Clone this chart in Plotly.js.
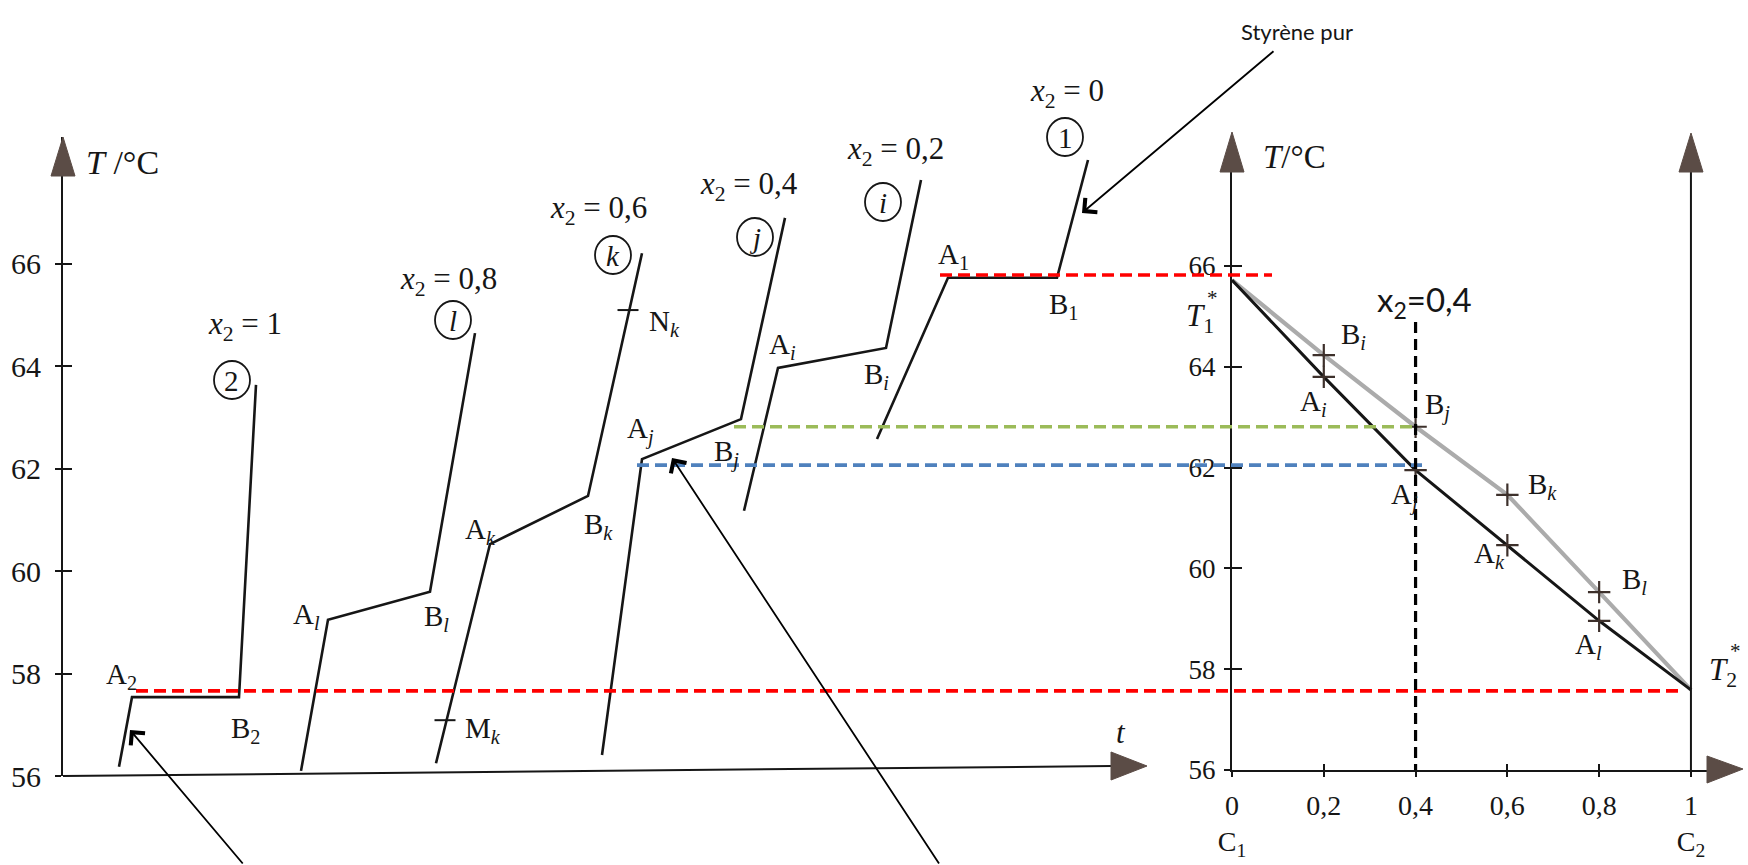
<!DOCTYPE html>
<html>
<head>
<meta charset="utf-8">
<script src="https://cdn.plot.ly/plotly-3.0.1.min.js"></script>
<style>
  html, body { margin: 0; padding: 0; background: #ffffff; }
  #fig { width: 1748px; height: 865px; }
</style>
</head>
<body>
<div id="fig"></div>
<script>
// ---- Heating curves T = f(t) for each mixture (t in arbitrary units) ----
const curve2_t = [0.56, 0.69, 1.76, 1.93];      // x2 = 1   (pure compound 2)
const curve2_T = [56.18, 57.54, 57.54, 63.64];
const curveL_t = [2.38, 2.65, 3.67, 4.12];      // x2 = 0,8
const curveL_T = [56.10, 59.05, 59.60, 64.65];
const curveK_t = [3.73, 4.27, 5.25, 5.79];      // x2 = 0,6
const curveK_T = [56.25, 60.53, 61.47, 66.21];
const curveJ_t = [5.39, 5.79, 6.78, 7.22];      // x2 = 0,4
const curveJ_T = [56.41, 62.19, 62.97, 66.90];
const curveI_t = [6.81, 7.15, 8.23, 8.58];      // x2 = 0,2
const curveI_T = [61.18, 63.97, 64.36, 67.64];
const curve1_t = [8.14, 8.85, 9.94, 10.25];     // x2 = 0   (pure styrene)
const curve1_T = [62.58, 65.73, 65.73, 68.03];

// points M_k and N_k marked on curve k
const markK_t = [3.82, 5.65];
const markK_T = [57.09, 65.10];

// ---- Isobaric diagram T = f(x2) ----
const x2 = [0, 0.2, 0.4, 0.6, 0.8, 1];
const T_bubble = [65.72, 63.80, 61.95, 60.46, 58.96, 57.59];   // points A
const T_dew    = [65.72, 64.23, 62.81, 61.46, 59.53, 57.59];   // points B

// guide temperatures
const T1_line = 65.82;
const T2_line = 57.57;
const Tgreen  = 62.81;
const Tblue   = 62.05;
const xGuide  = 0.4;

// tick values / labels
const tempTicks = [56, 58, 60, 62, 64, 66];
const compTicks = [0, 0.2, 0.4, 0.6, 0.8, 1];
const compText  = ['0<br>C<sub>1</sub>', '0,2', '0,4', '0,6', '0,8', '1<br>C<sub>2</sub>'];

// ---- page geometry helpers (pixels -> paper fractions) ----
const W = 1748, H = 865;
const px = x => x / W;
const py = y => 1 - y / H;

const SERIF = '"Liberation Serif", "DejaVu Serif", serif';
const SANS = 'Lato, "Open Sans", sans-serif';
const INK = '#161616';
const HEAD = '#5b4c46';

function line(xs, ys, opts) {
  return Object.assign({
    x: xs, y: ys, type: 'scatter', mode: 'lines',
    line: { color: INK, width: 2.6 },
    hoverinfo: 'skip', showlegend: false
  }, opts || {});
}

const traces = [
  line(curve2_t, curve2_T),
  line(curveL_t, curveL_T),
  line(curveK_t, curveK_T),
  line(curveJ_t, curveJ_T),
  line(curveI_t, curveI_T),
  line(curve1_t, curve1_T),
  {
    x: markK_t, y: markK_T, type: 'scatter', mode: 'markers',
    marker: { symbol: 'line-ew', size: 15, line: { color: INK, width: 2 } },
    hoverinfo: 'skip', showlegend: false
  },
  // dew curve (grey) and bubble curve (black)
  line(x2, T_dew, { xaxis: 'x2', yaxis: 'y2', line: { color: '#ababab', width: 4.2 } }),
  line(x2, T_bubble, { xaxis: 'x2', yaxis: 'y2', line: { color: INK, width: 3 } }),
  {
    x: x2.slice(1, 5).concat(x2.slice(1, 5)),
    y: T_bubble.slice(1, 5).concat(T_dew.slice(1, 5)),
    xaxis: 'x2', yaxis: 'y2', type: 'scatter', mode: 'markers',
    marker: { symbol: 'cross-thin', size: 16, line: { color: '#3d302b', width: 2.2 } },
    hoverinfo: 'skip', showlegend: false
  },
  // carriers for the inner tick overlays
  { x: [1], y: [60], xaxis: 'x', yaxis: 'y3', mode: 'markers', marker: { opacity: 0 }, hoverinfo: 'skip', showlegend: false },
  { x: [0.5], y: [60], xaxis: 'x3', yaxis: 'y2', mode: 'markers', marker: { opacity: 0 }, hoverinfo: 'skip', showlegend: false },
  { x: [0.5], y: [60], xaxis: 'x2', yaxis: 'y4', mode: 'markers', marker: { opacity: 0 }, hoverinfo: 'skip', showlegend: false }
];

const tRange = [0, 10.48];
const TleftRange = [56, 68.48];
const xRightRange = [0, 1.035];
const TrightRange = [56, 67.865];

const bare = { showgrid: false, zeroline: false, fixedrange: true };

const layout = {
  width: W, height: H,
  margin: { l: 0, r: 0, t: 0, b: 0 },
  paper_bgcolor: '#ffffff', plot_bgcolor: 'rgba(0,0,0,0)',
  showlegend: false,
  font: { family: SERIF, color: INK },
  xaxis: Object.assign({}, bare, {
    domain: [px(63), px(1111)], range: tRange, anchor: 'y',
    showline: false, showticklabels: false, ticks: ''
  }),
  yaxis: Object.assign({}, bare, {
    domain: [py(776), py(137)], range: TleftRange, anchor: 'x',
    showline: true, linecolor: INK, linewidth: 2,
    ticks: 'outside', ticklen: 6, tickwidth: 2, tickcolor: INK,
    tickvals: tempTicks, ticktext: tempTicks.map(String),
    ticklabelstandoff: 8,
    tickfont: { family: SERIF, size: 30, color: INK }
  }),
  yaxis3: Object.assign({}, bare, {
    overlaying: 'y', anchor: 'x', side: 'left', range: TleftRange,
    showline: false, showticklabels: false,
    ticks: 'inside', ticklen: 9, tickwidth: 2, tickcolor: INK,
    tickvals: tempTicks.slice(1)
  }),
  xaxis2: Object.assign({}, bare, {
    domain: [px(1232), px(1707)], range: xRightRange, anchor: 'y2',
    showline: true, linecolor: INK, linewidth: 2,
    ticks: 'outside', ticklen: 5, tickwidth: 2, tickcolor: INK,
    tickvals: compTicks, ticktext: compText,
    ticklabelstandoff: 4,
    tickfont: { family: SERIF, size: 28, color: INK }
  }),
  yaxis2: Object.assign({}, bare, {
    domain: [py(770), py(172)], range: TrightRange, anchor: 'x2',
    showline: true, linecolor: INK, linewidth: 2,
    ticks: 'outside', ticklen: 6, tickwidth: 2, tickcolor: INK,
    tickvals: tempTicks, ticktext: tempTicks.map(String),
    ticklabelstandoff: 3,
    tickfont: { family: SERIF, size: 27, color: INK }
  }),
  xaxis3: Object.assign({}, bare, {
    overlaying: 'x2', anchor: 'y2', range: xRightRange,
    showline: false, showticklabels: false,
    ticks: 'inside', ticklen: 6, tickwidth: 2, tickcolor: INK,
    tickvals: compTicks.slice(1, 5)
  }),
  yaxis4: Object.assign({}, bare, {
    overlaying: 'y2', anchor: 'x2', side: 'left', range: TrightRange,
    showline: false, showticklabels: false,
    ticks: 'inside', ticklen: 10, tickwidth: 2, tickcolor: INK,
    tickvals: tempTicks.slice(1)
  }),
  shapes: [],
  annotations: []
};

// ---- axis arrows, drawn in page pixels ----
function tri(a, b, c) {
  return 'M' + px(a[0]) + ',' + py(a[1]) + ' L' + px(b[0]) + ',' + py(b[1]) +
         ' L' + px(c[0]) + ',' + py(c[1]) + ' Z';
}
function head(a, b, c) {
  layout.shapes.push({ type: 'path', xref: 'paper', yref: 'paper', path: tri(a, b, c),
    fillcolor: HEAD, line: { color: HEAD, width: 1 }, layer: 'above' });
}
// left time axis (slightly sloping on the page)
layout.shapes.push({ type: 'line', xref: 'paper', yref: 'paper',
  x0: px(63), y0: py(776), x1: px(1112), y1: py(766), line: { color: INK, width: 2 } });
head([63, 137], [51, 176], [75, 176]);
head([1147, 766], [1111, 752], [1111, 780]);
// right diagram axes
head([1232, 132], [1220, 172], [1244, 172]);
head([1743, 769], [1707, 756], [1707, 783]);
layout.shapes.push({ type: 'line', xref: 'x2', yref: 'paper',
  x0: 1, x1: 1, y0: py(770), y1: py(172), line: { color: INK, width: 2 } });
head([1691, 133], [1679, 172], [1703, 172]);

// ---- coloured guide lines ----
function hguide(x0, x1, T, color) {
  layout.shapes.push({ type: 'line', xref: 'paper', yref: 'y2',
    x0: px(x0), x1: px(x1), y0: T, y1: T,
    line: { color: color, width: 3.6, dash: '12px,6px' }, layer: 'above' });
}
hguide(940, 1272, T1_line, '#ff0000');
hguide(136, 1680, T2_line, '#ff0000');
hguide(734, 1418, Tgreen, '#9bbb59');
hguide(637, 1422, Tblue, '#4f81bd');
layout.shapes.push({ type: 'line', xref: 'x2', yref: 'paper',
  x0: xGuide, x1: xGuide, y0: py(322), y1: py(770),
  line: { color: '#000000', width: 3.2, dash: '11px,6px' }, layer: 'above' });

// ---- text ----
function lab(text, x, y, size, family, opts) {
  layout.annotations.push(Object.assign({
    text: text, xref: 'paper', yref: 'paper', x: px(x), y: py(y),
    xanchor: 'center', yanchor: 'middle', showarrow: false,
    font: { family: family || SERIF, size: size || 29, color: INK }
  }, opts || {}));
}
function arrow(tip, start) {
  layout.annotations.push({
    text: '', xref: 'paper', yref: 'paper', x: px(tip[0]), y: py(tip[1]),
    ax: start[0] - tip[0], ay: start[1] - tip[1], axref: 'pixel', ayref: 'pixel',
    showarrow: true, arrowhead: 4, arrowsize: 2, arrowwidth: 1.8, arrowcolor: '#000000'
  });
}
// ---- circled curve numbers ----
function circ(cx, cy, txt) {
  layout.shapes.push({ type: 'circle', xref: 'paper', yref: 'paper',
    x0: px(cx - 18), x1: px(cx + 18), y0: py(cy + 19), y1: py(cy - 19),
    line: { color: INK, width: 1.8 } });
  lab(txt, cx, cy + 1, 29);
}

const x2lab = v => '<i>x</i><sub>2</sub> = ' + v;

// left panel
lab('<i>T</i> /°C', 122, 162, 34);
lab('<i>t</i>', 1121, 732, 31);
lab(x2lab('1'), 245, 326, 31);
lab(x2lab('0,8'), 448, 281, 31);
lab(x2lab('0,6'), 598, 210, 31);
lab(x2lab('0,4'), 749, 186, 31);
lab(x2lab('0,2'), 895, 151, 31);
lab(x2lab('0'), 1067, 93, 31);
circ(232, 380, '2');
circ(453, 320, '<i>l</i>');
circ(613, 255, '<i>k</i>');
circ(755, 237, '<i>j</i>');
circ(883, 202, '<i>i</i>');
circ(1065, 137, '1');

lab('A<sub>2</sub>', 121, 676);
lab('B<sub>2</sub>', 245, 730);
lab('A<sub><i>l</i></sub>', 306, 616);
lab('B<sub><i>l</i></sub>', 436, 618);
lab('A<sub><i>k</i></sub>', 480, 531);
lab('B<sub><i>k</i></sub>', 598, 526);
lab('M<sub><i>k</i></sub>', 483, 730);
lab('N<sub><i>k</i></sub>', 664, 323);
lab('A<sub><i>j</i></sub>', 640, 431);
lab('B<sub><i>j</i></sub>', 726, 453);
lab('A<sub><i>i</i></sub>', 782, 346);
lab('B<sub><i>i</i></sub>', 877, 376);
lab('A<sub>1</sub>', 954, 256);
lab('B<sub>1</sub>', 1063, 306);

// right panel
lab('<i>T</i>/°C', 1294, 157, 33);
lab('<i>T</i><sub>1</sub>', 1200, 318, 31);
lab('*', 1212, 298, 21);
lab('<i>T</i><sub>2</sub>', 1723, 672, 31);
lab('*', 1735, 651, 21);
lab('B<sub><i>i</i></sub>', 1353, 336);
lab('A<sub><i>i</i></sub>', 1313, 403);
lab('B<sub><i>j</i></sub>', 1437, 406);
lab('A<sub><i>j</i></sub>', 1404, 496);
lab('B<sub><i>k</i></sub>', 1542, 486);
lab('A<sub><i>k</i></sub>', 1489, 555);
lab('B<sub><i>l</i></sub>', 1634, 581);
lab('A<sub><i>l</i></sub>', 1588, 646);

// added notes
lab('x<sub>2</sub>=0,4', 1424, 302, 33, SANS);
lab('Styrène pur', 1297, 31, 22, SANS);
arrow([1082, 213], [1275, 50]);
arrow([130, 730], [244, 865]);
arrow([672, 458], [940, 865]);

Plotly.newPlot('fig', traces, layout, { staticPlot: true, displayModeBar: false });
</script>
</body>
</html>
